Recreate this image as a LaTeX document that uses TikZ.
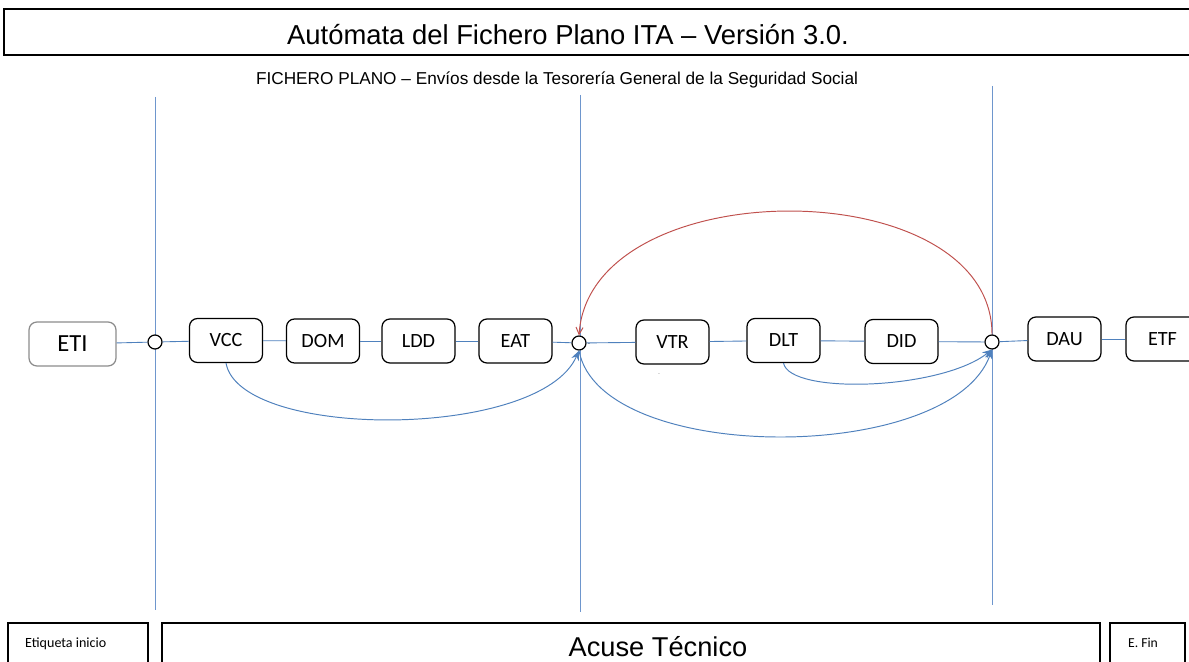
\documentclass[tikz,border=0pt]{standalone}
\usepackage{fontspec}
\setmainfont{Liberation Sans}
\newfontfamily\carlitofont{Carlito}
\usetikzlibrary{arrows.meta}
\definecolor{lblue}{RGB}{79,129,189}
\definecolor{vblue}{RGB}{110,150,205}
\definecolor{lred}{RGB}{192,80,77}
\tikzset{
  x=0.02cm, y=-0.02cm,
  state/.style={draw=black, line width=0.7pt, rounded corners=0.16cm, fill=white,
    minimum width=73*0.02cm, minimum height=44*0.02cm, inner sep=0pt,
    font=\carlitofont\fontsize{11.5}{12}\selectfont},
  junc/.style={draw=black, line width=0.7pt, circle, fill=white, minimum size=0.28cm, inner sep=0pt},
  link/.style={draw=lblue, line width=0.5pt},
  vline/.style={draw=vblue, line width=0.45pt},
  back/.style={draw=lblue, line width=0.55pt, -{Stealth[length=5.5pt,width=4.5pt]}},
  redarc/.style={draw=lred, line width=0.55pt, -{Straight Barb[length=4pt,width=4pt]}},
  frame/.style={draw=black, line width=0.7pt}
}
\begin{document}
\begin{tikzpicture}
\useasboundingbox (0,0) rectangle (1189,662);
\fill[white] (0,0) rectangle (1189,662);
% title
\draw[frame] (4,9) rectangle (1195,55);
\node[font=\fontsize{15.6}{17}\selectfont] (title) at (568,35) {Autómata del Fichero Plano ITA – Versión 3.0.};
\node[font=\fontsize{9.8}{11}\selectfont] (sub) at (557,80) {FICHERO PLANO – Envíos desde la Tesorería General de la Seguridad Social};
% vertical lines
\draw[vline] (155,97) -- (155,610);
\draw[vline] (580,95) -- (580,612);
\draw[vline] (992,86) -- (992,605);
% nodes
\node[state, draw=gray!90, minimum width=87*0.02cm, font=\carlitofont\fontsize{14}{15}\selectfont] (eti) at (72.5,344) {ETI};
\node[junc] (c1) at (155,342) {};
\node[state] (vcc) at (226,340.5) {VCC};
\node[state] (dom) at (323,341) {DOM};
\node[state] (ldd) at (418.5,341) {LDD};
\node[state] (eat) at (515.5,341) {EAT};
\node[junc] (c2) at (579,343) {};
\node[state] (vtr) at (672.5,342) {VTR};
\node[state] (dlt) at (783.5,340.5) {DLT};
\node[state] (did) at (901.5,341.5) {DID};
\node[junc] (c3) at (992,342) {};
\node[state] (dau) at (1064.5,339) {DAU};
\node[state] (etf) at (1162.5,339) {ETF};
\node[font=\fontsize{5}{5}\selectfont, inner sep=0pt] (dot1) at (589,344) {.};
\node[font=\fontsize{3}{3}\selectfont, inner sep=0pt] (dot2) at (659,374) {.};
% horizontal links
\draw[link] (eti) -- (c1);
\draw[link] (c1) -- (vcc);
\draw[link] (vcc) -- (dom);
\draw[link] (dom) -- (ldd);
\draw[link] (ldd) -- (eat);
\draw[link] (eat) -- (c2);
\draw[link] (c2) -- (vtr);
\draw[link] (vtr) -- (dlt);
\draw[link] (dlt) -- (did);
\draw[link] (did) -- (c3);
\draw[link] (c3) -- (dau);
\draw[link] (dau) -- (etf);
% back arcs
\draw[back] (vcc.south) .. controls (240,440) and (540,440) .. (c2.south);
\draw[back] (dlt.south) .. controls (790,395) and (940,390) .. (c3.south);
\draw[back] (c2.south) .. controls (600,465) and (950,465) .. (c3.south);
\draw[redarc] (c3.north) .. controls (992,170) and (590,170) .. (c2.north);
% bottom boxes
\draw[frame] (8,623) rectangle (148,670);
\node[font=\carlitofont\fontsize{8}{9}\selectfont, anchor=west] (ei) at (19,644) {Etiqueta inicio};
\draw[frame] (162,623) rectangle (1100,670);
\node[font=\fontsize{15.5}{17}\selectfont] (acuse) at (658,647) {Acuse Técnico};
\draw[frame] (1110,623) rectangle (1185,670);
\node[font=\carlitofont\fontsize{7.8}{9}\selectfont] (efin) at (1143,643) {E. Fin};
\end{tikzpicture}
\end{document}
